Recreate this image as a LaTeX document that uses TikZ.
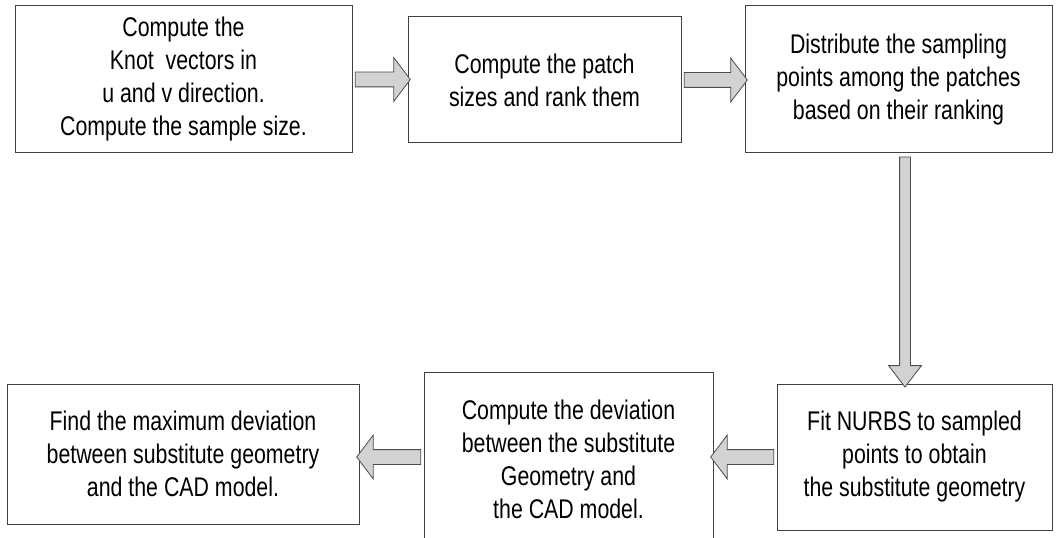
\documentclass[tikz,border=0pt]{standalone}
\usepackage{fontspec}
\setmainfont{Liberation Sans}[FakeStretch=0.79]
\usetikzlibrary{shapes.arrows,calc}
\begin{document}
\begin{tikzpicture}
  [x=0.75pt,y=-0.75pt,
   every node/.style={draw=black!75,line width=0.75pt,align=center,inner sep=0pt,
     font=\fontsize{20.25}{24.75}\selectfont},
   fat/.style={single arrow,fill=gray!35,draw=black!70,line width=0.6pt,
     inner ysep=5.25pt,single arrow head extend=10.875pt,single arrow tip angle=106},
   fatdown/.style={inner ysep=3.75pt,single arrow head extend=8.25pt,single arrow tip angle=75},
   flow/.style={to path={let \p1=($(\tikztotarget)-(\tikztostart)$),
       \n1={veclen(\x1,\y1)},\n2={atan2(\y1,\x1)} in
       node[fat,#1,minimum height=\n1,rotate=\n2] at ($(\tikztostart)!.5!(\tikztotarget)$) {}}}]
  \path[fill=white] (0,0) rectangle (1057,538);
  \clip (0,0) rectangle (1057,538);

  \node[minimum width=252.75pt,minimum height=110.25pt] (s1) at (183.5,79.5)
    {Compute the\\Knot~ vectors in\\u and v direction.\\Compute the sample size.};
  \node[minimum width=204.75pt,minimum height=94.5pt] (s2) at (544.5,80)
    {Compute the patch\\sizes and rank them};
  \node[minimum width=230.25pt,minimum height=110.25pt] (s3) at (898.5,79.5)
    {Distribute the sampling\\points among the patches\\based on their ranking};
  \node[minimum width=206.25pt,minimum height=109.5pt] (s4) at (914.5,457)
    {Fit NURBS to sampled\\points to obtain\\the substitute geometry};
  \node[minimum width=216.75pt,minimum height=129pt] (s5) at (568.5,459)
    {Compute the deviation\\between the substitute\\Geometry and\\the CAD model.};
  \node[minimum width=264pt,minimum height=105pt] (s6) at (183,454)
    {Find the maximum deviation\\between substitute geometry\\and the CAD model.};

  \foreach \from/\to in {s1/s2,s2/s3}
    \path (\from.east) to[flow] (\from.east -| \to.west);
  \coordinate (d3) at ($(s3.south)+(6.5,0)$);
  \path (d3) to[flow=fatdown] (d3 |- s4.north);
  \foreach \from/\to in {s4/s5,s5/s6}
    \path (s4.west -| \from.west) to[flow] (s4.west -| \to.east);
\end{tikzpicture}
\end{document}
